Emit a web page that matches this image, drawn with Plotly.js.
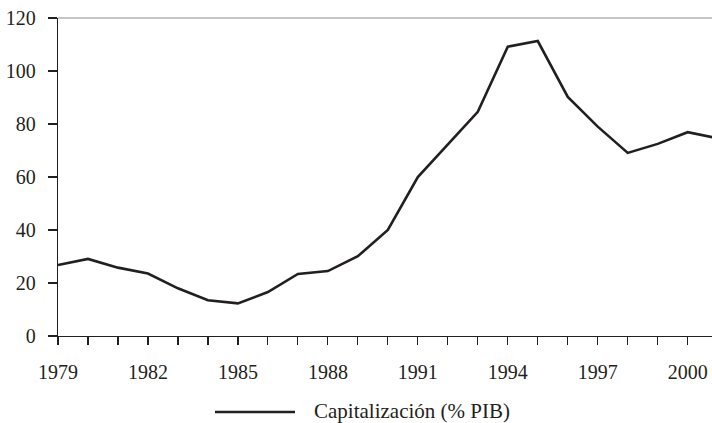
<!DOCTYPE html>
<html>
<head>
<meta charset="utf-8">
<script src="https://cdn.plot.ly/plotly-3.0.1.min.js"></script>
<style>html,body{margin:0;padding:0;background:#fff;}#chart{width:712px;height:423px;}</style>
</head>
<body>
<div id="chart"></div>
<script>
const years = [1979,1980,1981,1982,1983,1984,1985,1986,1987,1988,1989,1990,1991,1992,1993,1994,1995,1996,1997,1998,1999,2000,2001];
const capitalizacion = [26.8,29.1,25.8,23.6,18.0,13.5,12.3,16.6,23.4,24.5,30.1,40.0,60.0,72.5,84.6,109.2,111.3,90.2,79.0,69.1,72.5,76.9,74.6];
const seriesName = 'Capitalización (% PIB)';
const yTicks = [0,20,40,60,80,100,120];

const ink = '#231f20';
const font = {family: 'Liberation Serif, Times New Roman, serif', size: 20, color: ink};
const legFont = {family: 'Liberation Serif, Times New Roman, serif', size: 21, color: ink};

const trace = {
  x: years, y: capitalizacion, type: 'scatter', mode: 'lines',
  name: seriesName, showlegend: false,
  line: {color: ink, width: 2.6}
};

const layout = {
  width: 712, height: 423,
  margin: {l: 58, r: 0, t: 18, b: 87},
  paper_bgcolor: '#fff', plot_bgcolor: '#fff',
  font: font,
  showlegend: false,
  xaxis: {
    range: [1979, 2000.81], showgrid: false, zeroline: false,
    showline: true, linecolor: ink, linewidth: 1.2,
    tick0: 1979, dtick: 3, ticks: 'outside', ticklen: 8, tickwidth: 1.2, tickcolor: ink,
    ticklabelstandoff: 10,
    minor: {dtick: 1, tick0: 1979, ticks: 'outside', ticklen: 8, tickwidth: 1.2, tickcolor: ink, showgrid: false},
    tickfont: font
  },
  yaxis: {
    range: [0, 120], showgrid: false, zeroline: false,
    showline: true, linecolor: ink, linewidth: 1.2,
    tickvals: yTicks, ticks: 'outside', ticklen: 9, tickwidth: 1.2, tickcolor: ink,
    ticklabelstandoff: 8,
    tickfont: font
  },
  shapes: [
    {type: 'line', xref: 'paper', yref: 'paper', x0: 0, x1: 1, y0: 1, y1: 1, line: {color: '#b3b3b3', width: 1.5}},
    {type: 'line', xref: 'paper', yref: 'paper', x0: 0.240, x1: 0.3624, y0: -0.239, y1: -0.239, line: {color: ink, width: 2.6}}
  ],
  annotations: [
    {xref: 'paper', yref: 'paper', x: 0.389, y: -0.237, xanchor: 'left', yanchor: 'middle', showarrow: false, text: seriesName, font: legFont}
  ]
};

Plotly.newPlot('chart', [trace], layout, {displayModeBar: false, staticPlot: true});
</script>
</body>
</html>
